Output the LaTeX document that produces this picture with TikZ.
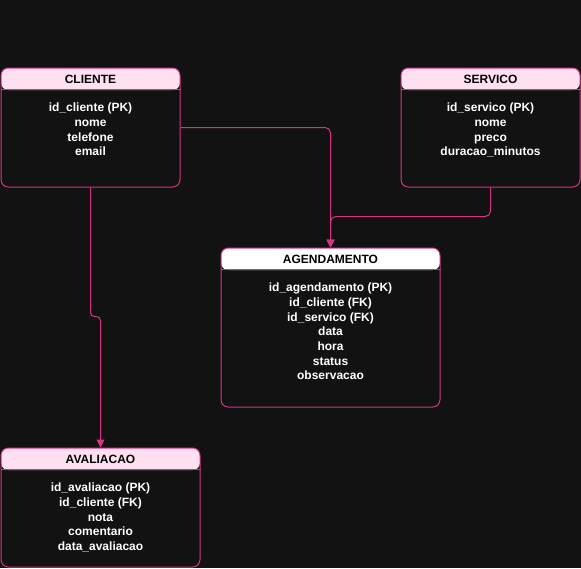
\documentclass[tikz,border=0pt]{standalone}
\usepackage{fontspec}
\setmainfont{Liberation Sans}
\usetikzlibrary{arrows.meta, positioning, calc, fit}
\definecolor{bgdark}{RGB}{18,18,18}
\definecolor{pinkline}{RGB}{214,51,132}
\definecolor{headpink}{RGB}{255,224,240}
\tikzset{
    tablebox/.style={draw=pinkline, line width=0.75pt, rounded corners=5.5pt, inner sep=0pt,
        path picture={\fill[#1] (path picture bounding box.north west) rectangle
            ([yshift=-16.5pt]path picture bounding box.north east);}},
    tablebox/.default=headpink
}

\begin{document}
\begin{tikzpicture}[
    x=0.75pt, y=-0.75pt,
    headtext/.style={font=\bfseries\fontsize{9}{11}\selectfont, text=black, inner sep=0pt},
    bodytext/.style={font=\bfseries\fontsize{9}{11}\selectfont, text=white, align=center, inner sep=0pt, anchor=north},
    sepline/.style={draw=pinkline, line width=0.75pt},
    edge/.style={draw=pinkline, line width=0.75pt, -{Triangle[width=6pt, length=6pt]}}
]

% background, also fixes the size
\fill[bgdark] (0,0) rectangle (581,568);

% Tables
\node[tablebox, fit={(1,68) (180,187)}] (cliente) {};
\node[tablebox, fit={(401,68) (580,187)}] (servico) {};
\node[tablebox=white, fit={(221,248) (440,407)}] (agendamento) {};
\node[tablebox, fit={(1,448) (200,567)}] (avaliacao) {};

% Header lines and titles
\foreach \tab/\title in {cliente/CLIENTE, servico/SERVICO, agendamento/AGENDAMENTO, avaliacao/AVALIACAO} {
    \draw[sepline] ([yshift=-16.5pt]\tab.north west) -- ([yshift=-16.5pt]\tab.north east);
    \node[headtext] (\tab_title) at ([yshift=-9pt]\tab.north) {\title};
}

% Fields
\node[bodytext] (cliente_fields) at ([yshift=-26.5pt]cliente.north)
    {id\_cliente (PK)\\nome\\telefone\\email};
\node[bodytext] (servico_fields) at ([yshift=-26.5pt]servico.north)
    {id\_servico (PK)\\nome\\preco\\duracao\_minutos};
\node[bodytext] (agendamento_fields) at ([yshift=-26.5pt]agendamento.north)
    {id\_agendamento (PK)\\id\_cliente (FK)\\id\_servico (FK)\\data\\hora\\status\\observacao};
\node[bodytext] (avaliacao_fields) at ([yshift=-26.5pt]avaliacao.north)
    {id\_avaliacao (PK)\\id\_cliente (FK)\\nota\\comentario\\data\_avaliacao};

% Relations
\draw[edge, rounded corners=4pt] (cliente.east) -| (agendamento.north);
\draw[edge, rounded corners=4pt] (servico.south) |- ($(agendamento.north)+(0,-31)$) -- (agendamento.north);
\draw[edge, rounded corners=3pt] (cliente.south) |- ($(avaliacao.north)+(0,-131)$) -- (avaliacao.north);

\end{tikzpicture}
\end{document}
